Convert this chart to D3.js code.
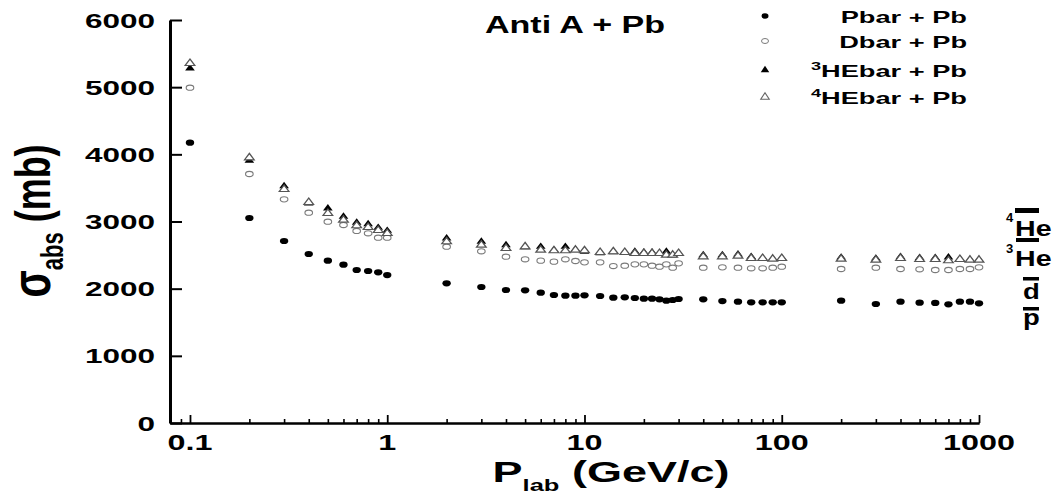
<!DOCTYPE html>
<html>
<head>
<meta charset="utf-8">
<script src="https://cdn.jsdelivr.net/npm/d3@7"></script>
<style>
  html, body { margin: 0; padding: 0; background: #fff; }
  svg { display: block; }
  text { font-family: "Liberation Sans", Arial, sans-serif; font-weight: bold; fill: #000; }
</style>
</head>
<body>
<svg id="chart" width="1060" height="499"></svg>
<script>
// ---------------- data ----------------
const pLab = [0.1,0.2,0.3,0.4,0.5,0.6,0.7,0.8,0.9,1,
  2,3,4,5,6,7,8,9,10,
  12,14,16,18,20,22,24,26,28,30,
  40,50,60,70,80,90,100,
  200,300,400,500,600,700,800,900,1000];

const pbarPb = [4173,3052,2710,2516,2417,2357,2278,2263,2243,2203,
  2080,2025,1980,1975,1940,1906,1896,1896,1901,
  1891,1866,1871,1861,1851,1851,1841,1821,1831,1846,
  1841,1816,1806,1797,1797,1797,1797,
  1821,1772,1806,1792,1787,1767,1806,1806,1782];

const dbarPb = [4992,3707,3330,3131,2997,2948,2859,2824,2759,2759,
  2625,2556,2476,2437,2417,2402,2437,2412,2392,
  2392,2337,2342,2362,2362,2342,2327,2362,2312,2377,
  2312,2317,2312,2303,2303,2312,2327,
  2293,2312,2293,2288,2278,2278,2293,2293,2317];

const he3barPb = [5281,3905,3528,3270,3196,3072,2983,2963,2908,2863,
  2750,2700,2650,2620,2625,2570,2625,2580,2550,
  2530,2545,2540,2551,2541,2541,2520,2551,2495,2520,
  2500,2500,2510,2475,2455,2445,2455,
  2465,2450,2475,2460,2460,2467,2440,2430,2430];

const he4barPb = [5355,3950,3479,3286,3122,3022,2938,2913,2869,2824,
  2700,2650,2601,2625,2576,2566,2566,2576,2566,
  2541,2551,2541,2526,2526,2526,2526,2501,2501,2526,
  2476,2476,2486,2452,2452,2442,2452,
  2442,2427,2452,2437,2437,2417,2437,2427,2427];

const yTicks = [0,1000,2000,3000,4000,5000,6000];
const xMajorTicks = [0.1,1,10,100,1000];
const xTickLabels = ["0.1","1","10","100","1000"];
const xMinorTicks = [0.09,0.2,0.3,0.4,0.5,0.6,0.7,0.8,0.9,2,3,4,5,6,7,8,9,
  20,30,40,50,60,70,80,90,200,300,400,500,600,700,800,900];
const seriesNames = ["Pbar + Pb","Dbar + Pb","HEbar + Pb","HEbar + Pb"];
const seriesSup = ["","","3","4"];
const titleText = "Anti A + Pb";

// ---------------- chart ----------------
const svg = d3.select("#chart");
const x = d3.scaleLog().domain([0.0792, 1000]).range([170, 979]);
const y = d3.scaleLinear().domain([0, 6000]).range([423, 20]);

function stext(g, px, py, sx, str, size, anchor) {
  return g.append("text")
    .attr("transform", `translate(${px},${py}) scale(${sx},1)`)
    .attr("text-anchor", anchor || "start")
    .attr("font-size", size)
    .text(str);
}

// Y axis (ticks pointing inward)
const yAx = svg.append("g").attr("transform", "translate(170,0)")
  .call(d3.axisRight(y).tickValues(yTicks).tickSize(12).tickSizeOuter(0).tickFormat(""));
yAx.select(".domain").attr("stroke-width", 3).attr("stroke", "#000");
yAx.selectAll(".tick line").attr("stroke-width", 2);

// X axis (ticks pointing inward)
const xAxMinor = svg.append("g").attr("transform", "translate(0,423)")
  .call(d3.axisTop(x).tickValues(xMinorTicks).tickSize(4).tickSizeOuter(0).tickFormat(""));
xAxMinor.select(".domain").attr("stroke-width", 2);
xAxMinor.selectAll(".tick line").attr("stroke-width", 1.6);
const xAxMajor = svg.append("g").attr("transform", "translate(0,423)")
  .call(d3.axisTop(x).tickValues(xMajorTicks).tickSize(8).tickSizeOuter(0).tickFormat(""));
xAxMajor.select(".domain").attr("stroke-width", 2);
xAxMajor.selectAll(".tick line").attr("stroke-width", 1.8);

// tick labels
const lab = svg.append("g");
yTicks.forEach(v => {
  stext(lab, 155, y(v) + 7.5, 1.5, String(v), 21, "end");
});
xMajorTicks.forEach((v, i) => {
  stext(lab, x(v), 450, 1.47, xTickLabels[i], 22, "middle");
});

// axis titles
const yt = svg.append("text")
  .attr("transform", "translate(50,221) scale(1.4,1) rotate(-90)")
  .attr("text-anchor", "middle").attr("font-size", 36);
yt.append("tspan").attr("font-size", 40).text("σ");
yt.append("tspan").attr("font-size", 22).attr("dy", 9).text("abs");
yt.append("tspan").attr("dy", -9).text(" (mb)");

const xt = svg.append("text")
  .attr("transform", "translate(611,482) scale(1.5,1)")
  .attr("text-anchor", "middle").attr("font-size", 30);
xt.append("tspan").text("P");
xt.append("tspan").attr("font-size", 17).attr("dy", 9).text("lab");
xt.append("tspan").attr("dy", -9).text(" (GeV/c)");

// chart title
stext(svg, 575, 33, 1.42, titleText, 24, "middle");

// ---------------- markers ----------------
const tri = d3.symbol().type(d3.symbolTriangle).size(24)();
const marks = svg.append("g");

function drawSeries(vals, kind) {
  const g = marks.append("g");
  const pts = pLab.map((p, i) => [p, vals[i]]);
  if (kind === "dot" || kind === "ring") {
    g.selectAll("ellipse").data(pts).join("ellipse")
      .attr("cx", d => x(d[0])).attr("cy", d => y(d[1]))
      .attr("rx", kind === "dot" ? 4.2 : 3.8).attr("ry", kind === "dot" ? 3.1 : 2.6)
      .attr("fill", kind === "dot" ? "#000" : "#fff")
      .attr("stroke", kind === "dot" ? "none" : "#7a7a7a").attr("stroke-width", 1.1);
  } else {
    g.selectAll("path").data(pts).join("path")
      .attr("d", tri)
      .attr("transform", d => `translate(${x(d[0])},${y(d[1])}) scale(1.3,1)`)
      .attr("fill", kind === "tri" ? "#000" : "#fff")
      .attr("stroke", kind === "tri" ? "none" : "#555").attr("stroke-width", 1.1);
  }
}
drawSeries(pbarPb, "dot");
drawSeries(dbarPb, "ring");
drawSeries(he3barPb, "tri");
drawSeries(he4barPb, "otri");

// ---------------- legend ----------------
const kinds = ["dot","ring","tri","otri"];
const legY = [16, 41, 70, 97];
const leg = svg.append("g");
kinds.forEach((k, i) => {
  const cy = legY[i];
  if (k === "dot" || k === "ring") {
    leg.append("ellipse").attr("cx", 765).attr("cy", cy)
      .attr("rx", 3.5).attr("ry", k === "dot" ? 2.8 : 2.5)
      .attr("fill", k === "dot" ? "#000" : "#fff")
      .attr("stroke", k === "dot" ? "none" : "#7a7a7a");
  } else {
    leg.append("path").attr("d", tri)
      .attr("transform", `translate(765,${cy}) scale(1.15,1)`)
      .attr("fill", k === "tri" ? "#000" : "#fff")
      .attr("stroke", k === "tri" ? "none" : "#666");
  }
  const t = leg.append("text")
    .attr("transform", `translate(967,${cy + 7}) scale(1.65,1)`)
    .attr("text-anchor", "end").attr("font-size", 16.5);
  if (seriesSup[i]) t.append("tspan").attr("font-size", 11).attr("dy", -7).text(seriesSup[i]);
  t.append("tspan").attr("dy", seriesSup[i] ? 7 : 0).text(seriesNames[i]);
});

// ---------------- right-side particle labels ----------------
const rl = svg.append("g");
rl.append("rect").attr("x", 1015).attr("y", 208).attr("width", 24).attr("height", 5);
rl.append("text").attr("x", 1006).attr("y", 222).attr("font-size", 13).text("4");
stext(rl, 1015, 236, 1.3, "He", 22);
rl.append("rect").attr("x", 1016).attr("y", 238).attr("width", 23).attr("height", 4);
rl.append("text").attr("x", 1006).attr("y", 253).attr("font-size", 13).text("3");
stext(rl, 1015, 266, 1.3, "He", 22);
rl.append("rect").attr("x", 1023).attr("y", 277).attr("width", 16).attr("height", 3.5);
stext(rl, 1023, 299, 1.25, "d", 22);
rl.append("rect").attr("x", 1023).attr("y", 307).attr("width", 16).attr("height", 3.5);
stext(rl, 1023, 325, 1.25, "p", 22);
</script>
</body>
</html>
